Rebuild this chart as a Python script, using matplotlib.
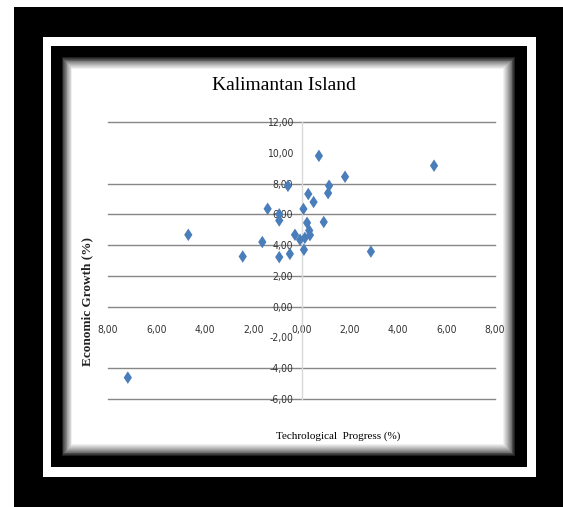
import matplotlib
matplotlib.use("Agg")
import matplotlib.pyplot as plt
from matplotlib.patches import Rectangle
import numpy as np

# ---- data ----
tech_progress = [5.48, 0.72, 1.80, 1.14, 1.10, -0.56, 0.28, 0.50, 0.08, -1.40,
                 -0.92, -0.92, 0.92, 0.23, 0.32, 0.35, 0.14, -0.06, -0.27, 0.10,
                 -0.48, -0.92, -1.62, -2.43, -4.68, -7.18, 2.87]
econ_growth = [9.16, 9.80, 8.44, 7.86, 7.38, 7.85, 7.32, 6.80, 6.35, 6.36,
               6.00, 5.60, 5.50, 5.45, 4.95, 4.65, 4.47, 4.35, 4.67, 3.70,
               3.43, 3.22, 4.20, 3.26, 4.67, -4.61, 3.58]
x_ticks = [-8, -6, -4, -2, 0, 2, 4, 6, 8]
x_tick_labels = ["8,00", "6,00", "4,00", "2,00", "0,00", "2,00", "4,00", "6,00", "8,00"]
y_ticks = [-6, -4, -2, 0, 2, 4, 6, 8, 10, 12]
y_tick_labels = ["-6,00", "-4,00", "-2,00", "0,00", "2,00", "4,00", "6,00", "8,00", "10,00", "12,00"]
hidden_grid = [-2, 10]
title = "Kalimantan Island"
x_label = "Techrological  Progress (%)"
y_label = "Economic Growth (%)"

W, H = 563, 507
fig = plt.figure(figsize=(W / 100, H / 100), dpi=100)
fig.patch.set_facecolor("white")


def rect_px(x0, y0, x1, y1, color, z):
    fig.patches.append(Rectangle((x0 / W, 1 - y1 / H), (x1 - x0) / W, (y1 - y0) / H,
                                 transform=fig.transFigure, facecolor=color,
                                 edgecolor="none", zorder=z))


# frames
rect_px(14, 7, 563, 507, "black", -10)
rect_px(43, 37, 536, 477, "white", -9)
rect_px(51, 46, 527, 467, "black", -8)
# inner shadow gradient
n = 14
for i in range(n + 1):
    g = (i / n) ** 0.8
    rect_px(61 + i * 0.8, 56 + i * 0.9, 516 - i * 0.9, 457 - i * 0.9, (g, g, g), -7 + i * 0.01)

ax = fig.add_axes([108 / W, 1 - 399 / H, (495 - 108) / W, (399 - 122) / H])
ax.set_facecolor("none")
ax.set_xlim(-8, 8)
ax.set_ylim(-6, 12)

for s in ["top", "right", "bottom"]:
    ax.spines[s].set_visible(False)
ax.spines["left"].set_position(("data", 0))
ax.spines["left"].set_color("#d9d9d9")
ax.spines["left"].set_linewidth(1.0)
ax.spines["bottom"].set_position(("data", 0))

tick_font = {"family": ["DejaVu Sans"], "stretch": "condensed", "size": 7.5}
ax.set_xticks(x_ticks)
ax.set_xticklabels(x_tick_labels, fontdict=tick_font, color="#333333")
ax.set_yticks(y_ticks)
ax.set_yticklabels(y_tick_labels, fontdict=tick_font, color="#333333")
ax.tick_params(axis="x", length=0, pad=13)
ax.tick_params(axis="y", length=0, pad=6)

ax.yaxis.grid(True, color="#868686", linewidth=1.0)
ax.xaxis.grid(False)
for t, gl in zip(y_ticks, ax.yaxis.get_gridlines()):
    gl.set_clip_on(False)
    if t in hidden_grid:
        gl.set_visible(False)
ax.set_axisbelow(True)

diamond = [(0, 1), (0.66, 0), (0, -1), (-0.66, 0), (0, 1)]
ax.scatter(tech_progress, econ_growth, marker=diamond, s=9.0 ** 2, color="#4a7ebb",
           edgecolors="none", zorder=3, clip_on=False)

serif = ["Liberation Serif", "DejaVu Serif"]
fig.text(284 / W, 1 - 85 / H, title, ha="center", va="center", fontsize=14, family=serif)
fig.text(338 / W, 1 - 436 / H, x_label, ha="center", va="center", fontsize=8, family=serif)
fig.text(87 / W, 1 - 301 / H, y_label, ha="center", va="center", rotation=90,
         fontsize=9.5, family=serif, fontweight="bold", color="#222222")

fig.savefig("out.png", dpi=100)
